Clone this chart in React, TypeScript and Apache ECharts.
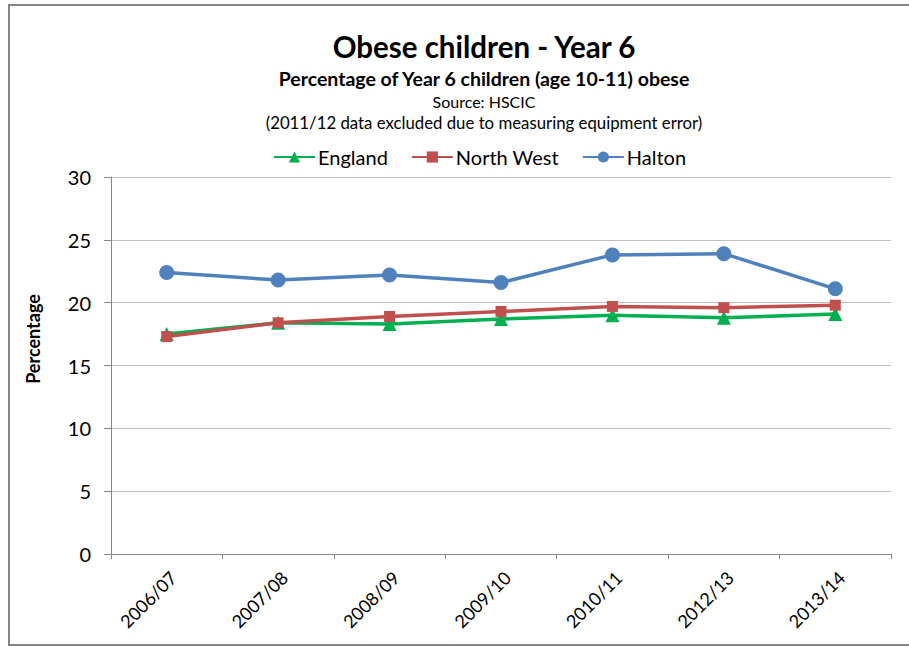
import React, { useEffect, useRef } from "react";
import * as echarts from "echarts";

const categories = ["2006/07", "2007/08", "2008/09", "2009/10", "2010/11", "2012/13", "2013/14"];
const england = [17.5, 18.4, 18.3, 18.7, 19.0, 18.8, 19.1];
const northWest = [17.3, 18.4, 18.9, 19.3, 19.7, 19.6, 19.8];
const halton = [22.4, 21.8, 22.2, 21.6, 23.8, 23.9, 21.1];

const FONT = "Lato, 'Noto Sans', sans-serif";
const GREEN = "#00B050";
const RED = "#C0504D";
const BLUE = "#4F81BD";
const AXIS = "#868686";
const GRID = "#BFBFBF";

export default function App() {
  const ref = useRef<HTMLDivElement>(null);

  useEffect(() => {
    if (!ref.current) return;
    const chart = echarts.init(ref.current, undefined, { renderer: "svg" });
    const lineSeries = (name: string, data: number[], color: string, symbol: string, size: number) => ({
      name,
      type: "line",
      data,
      symbol,
      symbolSize: size,
      lineStyle: { color, width: 3.5 },
      itemStyle: { color },
      emphasis: { disabled: true },
    });
    const centred = (x: number, y: number, text: string, font: string) => ({
      type: "text",
      x,
      y,
      style: { text, font, fill: "#000", textAlign: "center", textVerticalAlign: "middle" },
    });
    chart.setOption({
      animation: false,
      backgroundColor: "#ffffff",
      textStyle: { fontFamily: FONT },
      graphic: [
        {
          type: "rect",
          shape: { x: 9, y: 5, width: 1000, height: 640 },
          style: { fill: "none", stroke: AXIS, lineWidth: 2 },
          silent: true,
        },
        centred(484, 46, "Obese children - Year 6", `bold 29.5px ${FONT}`),
        centred(484, 78, "Percentage of Year 6 children (age 10-11) obese", `bold 19.5px ${FONT}`),
        centred(484, 101, "Source: HSCIC", `16px ${FONT}`),
        centred(484, 122, "(2011/12 data excluded due to measuring equipment error)", `16.8px ${FONT}`),
        {
          ...centred(33, 339, "Percentage", `bold 18px ${FONT}`),
          rotation: Math.PI / 2,
        },
      ],
      legend: {
        left: 273,
        top: 147,
        padding: 0,
        itemGap: 23,
        itemWidth: 41,
        itemHeight: 14,
        textStyle: { fontFamily: FONT, fontSize: 20, color: "#000", padding: [0, 0, 0, -2] },
        data: ["England", "North West", "Halton"],
      },
      grid: { left: 111, right: 18, top: 177, bottom: 92 },
      xAxis: {
        type: "category",
        data: categories,
        boundaryGap: true,
        axisLine: { lineStyle: { color: AXIS, width: 1 } },
        axisTick: { show: true, interval: 0, length: 5, lineStyle: { color: AXIS } },
        axisLabel: {
          rotate: 45,
          interval: 0,
          margin: 14,
          fontFamily: FONT,
          fontSize: 18,
          color: "#000",
          align: "right",
          verticalAlign: "top",
        },
      },
      yAxis: {
        type: "value",
        min: 0,
        max: 30,
        interval: 5,
        axisLine: { show: true, lineStyle: { color: AXIS, width: 1 } },
        axisTick: { show: true, length: 7, lineStyle: { color: AXIS } },
        axisLabel: { margin: 20, fontFamily: FONT, fontSize: 20, color: "#000" },
        splitLine: { lineStyle: { color: GRID, width: 1 } },
      },
      series: [
        lineSeries("England", england, GREEN, "triangle", 14),
        lineSeries("North West", northWest, RED, "rect", 11),
        lineSeries("Halton", halton, BLUE, "circle", 15),
      ],
    });
    return () => chart.dispose();
  }, []);

  return (
    <div
      ref={ref}
      style={{ position: "fixed", left: 0, top: 0, width: 909, height: 646 }}
    />
  );
}
